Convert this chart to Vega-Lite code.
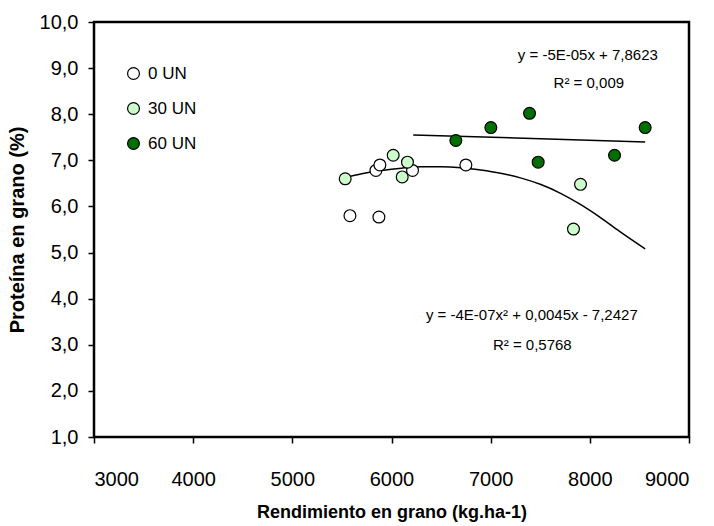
{
  "$schema": "https://vega.github.io/schema/vega-lite/v6.json",
  "autosize": "none",
  "width": 595,
  "height": 415,
  "padding": {"left": 94, "top": 22, "right": 25, "bottom": 89},
  "background": "white",
  "config": {
    "font": "Liberation Sans",
    "view": {"stroke": "black", "strokeWidth": 2.5},
    "axis": {"grid": false, "domain": false, "tickColor": "black", "tickSize": 6, "tickWidth": 1.5, "labelColor": "black", "titleColor": "black", "labelFont": "Liberation Sans", "titleFont": "Liberation Sans"}
  },
  "datasets": {
    "pts": [
      {"rend": 5581, "prot": 5.80, "dosis": "0 UN"},
      {"rend": 5873, "prot": 5.77, "dosis": "0 UN"},
      {"rend": 5843, "prot": 6.78, "dosis": "0 UN"},
      {"rend": 5883, "prot": 6.90, "dosis": "0 UN"},
      {"rend": 6212, "prot": 6.78, "dosis": "0 UN"},
      {"rend": 6750, "prot": 6.90, "dosis": "0 UN"},
      {"rend": 5533, "prot": 6.60, "dosis": "30 UN"},
      {"rend": 6017, "prot": 7.11, "dosis": "30 UN"},
      {"rend": 6161, "prot": 6.96, "dosis": "30 UN"},
      {"rend": 6108, "prot": 6.64, "dosis": "30 UN"},
      {"rend": 7906, "prot": 6.48, "dosis": "30 UN"},
      {"rend": 7835, "prot": 5.51, "dosis": "30 UN"},
      {"rend": 6649, "prot": 7.43, "dosis": "60 UN"},
      {"rend": 7002, "prot": 7.71, "dosis": "60 UN"},
      {"rend": 7392, "prot": 8.02, "dosis": "60 UN"},
      {"rend": 7479, "prot": 6.96, "dosis": "60 UN"},
      {"rend": 8249, "prot": 7.11, "dosis": "60 UN"},
      {"rend": 8558, "prot": 7.71, "dosis": "60 UN"}
    ],
    "quad": [
      {"rend": 5533, "prot": 6.63},
      {"rend": 5700, "prot": 6.71},
      {"rend": 5900, "prot": 6.78},
      {"rend": 6100, "prot": 6.83},
      {"rend": 6300, "prot": 6.86},
      {"rend": 6500, "prot": 6.86},
      {"rend": 6700, "prot": 6.84},
      {"rend": 6900, "prot": 6.79},
      {"rend": 7100, "prot": 6.72},
      {"rend": 7300, "prot": 6.62},
      {"rend": 7500, "prot": 6.48},
      {"rend": 7700, "prot": 6.29},
      {"rend": 7900, "prot": 6.05},
      {"rend": 8100, "prot": 5.77},
      {"rend": 8300, "prot": 5.46},
      {"rend": 8558, "prot": 5.08}
    ],
    "lin": [
      {"rend": 6219, "prot": 7.55},
      {"rend": 8558, "prot": 7.40}
    ],
    "notes": [
      {"nx": 7980, "ny": 9.28, "txt": "y = -5E-05x + 7,8623"},
      {"nx": 7990, "ny": 8.68, "txt": "R² = 0,009"},
      {"nx": 7415, "ny": 3.64, "txt": "y = -4E-07x² + 0,0045x - 7,2427"},
      {"nx": 7420, "ny": 3.0, "txt": "R² = 0,5768"}
    ]
  },
  "layer": [
    {
      "data": {"name": "quad"},
      "mark": {"type": "line", "color": "black", "strokeWidth": 1.5, "interpolate": "monotone"},
      "encoding": {
        "x": {"field": "rend", "type": "quantitative", "scale": {"domain": [3000, 9000], "nice": false, "zero": false},
          "axis": {"values": [3000, 4000, 5000, 6000, 7000, 8000, 9000], "format": "d", "labelFontSize": 20, "labelPadding": 26, "title": "Rendimiento en grano (kg.ha-1)", "titleFontSize": 18, "titleFontWeight": "bold", "titlePadding": 14}},
        "y": {"field": "prot", "type": "quantitative", "scale": {"domain": [1, 10], "nice": false, "zero": false},
          "axis": {"values": [1, 2, 3, 4, 5, 6, 7, 8, 9, 10], "labelExpr": "replace(format(datum.value, '.1f'), '.', ',')", "labelFontSize": 20, "labelPadding": 10, "title": "Proteína en grano (%)", "titleFontSize": 20, "titleFontWeight": "bold", "titlePadding": 12}}
      }
    },
    {
      "data": {"name": "lin"},
      "mark": {"type": "line", "color": "black", "strokeWidth": 1.5},
      "encoding": {
        "x": {"field": "rend", "type": "quantitative"},
        "y": {"field": "prot", "type": "quantitative"}
      }
    },
    {
      "data": {"name": "pts"},
      "mark": {"type": "point", "shape": "circle", "filled": true, "stroke": "black", "strokeWidth": 1.2, "size": 140, "opacity": 1},
      "encoding": {
        "x": {"field": "rend", "type": "quantitative"},
        "y": {"field": "prot", "type": "quantitative"},
        "fill": {"field": "dosis", "type": "nominal",
          "scale": {"domain": ["0 UN", "30 UN", "60 UN"], "range": ["#ffffff", "#ccffcc", "#006f00"]},
          "legend": {"title": null, "orient": "none", "legendX": 31, "legendY": 43, "padding": 0, "symbolType": "circle", "symbolSize": 140, "symbolStrokeColor": "black", "symbolStrokeWidth": 1.2, "labelFontSize": 17, "labelFont": "Liberation Sans", "labelColor": "black", "labelOffset": 6, "rowPadding": 17}}
      }
    },
    {
      "data": {"name": "notes"},
      "mark": {"type": "text", "fontSize": 15, "font": "Liberation Sans", "color": "black", "align": "center", "baseline": "middle"},
      "encoding": {
        "x": {"field": "nx", "type": "quantitative"},
        "y": {"field": "ny", "type": "quantitative"},
        "text": {"field": "txt", "type": "nominal"}
      }
    }
  ]
}
